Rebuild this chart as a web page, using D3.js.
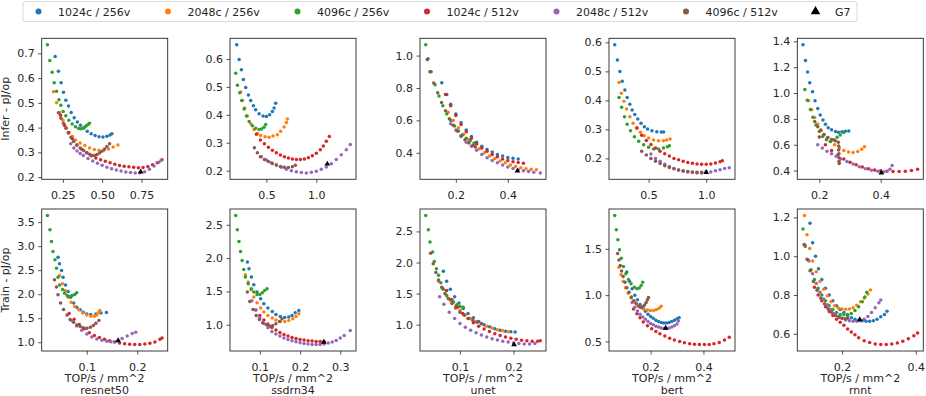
<!DOCTYPE html>
<html><head><meta charset="utf-8">
<script src="https://cdn.jsdelivr.net/npm/d3@7"></script>
<style>html,body{margin:0;padding:0;background:#fff;}svg{display:block;}</style>
</head><body>
<svg id="chart" width="926" height="396"></svg>
<script>
// ---------- data ----------
const seriesNames = ["1024c / 256v","2048c / 256v","4096c / 256v","1024c / 512v","2048c / 512v","4096c / 512v"];
const seriesColors = ["#1f77b4","#ff7f0e","#2ca02c","#d62728","#9467bd","#8c564b"];
const models = ["resnet50","ssdrn34","unet","bert","rnnt"];
const rowLabels = ["Infer - pJ/op","Train - pJ/op"];
const xLabel = "TOP/s / mm^2";

// each panel: [blue, orange, green, red, purple, brown] series of [TOP/s/mm^2, pJ/op]
const inferResnet50 = [
 [[0.201,0.687],[0.222,0.628],[0.239,0.581],[0.254,0.543],[0.269,0.511],[0.286,0.487],[0.303,0.461],[0.322,0.44],[0.342,0.423],[0.362,0.41],[0.383,0.398],[0.405,0.385],[0.43,0.375],[0.455,0.368],[0.48,0.363],[0.505,0.362],[0.53,0.365],[0.55,0.37],[0.562,0.375]],
 [[0.19,0.545],[0.21,0.5],[0.23,0.46],[0.25,0.43],[0.27,0.4],[0.29,0.38],[0.31,0.365],[0.33,0.35],[0.36,0.338],[0.39,0.328],[0.42,0.318],[0.45,0.312],[0.48,0.308],[0.51,0.308],[0.54,0.314],[0.57,0.322],[0.6,0.33]],
 [[0.152,0.735],[0.167,0.671],[0.182,0.624],[0.195,0.581],[0.21,0.547],[0.225,0.513],[0.237,0.49],[0.252,0.465],[0.269,0.448],[0.288,0.43],[0.309,0.415],[0.33,0.403],[0.35,0.396],[0.365,0.395],[0.378,0.397],[0.39,0.402],[0.4,0.407],[0.41,0.413],[0.419,0.418]],
 [[0.235,0.45],[0.26,0.41],[0.285,0.38],[0.31,0.355],[0.34,0.33],[0.37,0.313],[0.4,0.298],[0.43,0.286],[0.46,0.277],[0.49,0.27],[0.52,0.264],[0.55,0.258],[0.58,0.252],[0.61,0.247],[0.64,0.244],[0.67,0.242],[0.7,0.24],[0.73,0.238],[0.76,0.239],[0.79,0.243],[0.82,0.25],[0.85,0.258],[0.88,0.27]],
 [[0.3,0.335],[0.32,0.318],[0.34,0.305],[0.36,0.295],[0.38,0.287],[0.41,0.275],[0.44,0.265],[0.47,0.256],[0.5,0.248],[0.53,0.24],[0.56,0.234],[0.59,0.229],[0.62,0.225],[0.65,0.221],[0.68,0.219],[0.71,0.217],[0.74,0.218],[0.77,0.222],[0.8,0.232],[0.83,0.245],[0.86,0.26],[0.875,0.268]],
 [[0.222,0.46],[0.238,0.438],[0.254,0.418],[0.27,0.397],[0.286,0.378],[0.302,0.36],[0.318,0.344],[0.338,0.33],[0.36,0.318],[0.382,0.307],[0.403,0.298],[0.42,0.292],[0.435,0.287],[0.452,0.287],[0.467,0.291],[0.483,0.297],[0.498,0.304],[0.515,0.314],[0.53,0.324],[0.547,0.335]]
];
const inferSsdrn34 = [
 [[0.203,0.651],[0.227,0.598],[0.25,0.561],[0.27,0.526],[0.293,0.498],[0.32,0.471],[0.343,0.451],[0.37,0.432],[0.393,0.418],[0.427,0.404],[0.467,0.396],[0.5,0.394],[0.533,0.4],[0.56,0.412],[0.577,0.424],[0.593,0.441]],
 [[0.243,0.482],[0.26,0.451],[0.283,0.424],[0.31,0.396],[0.343,0.368],[0.377,0.347],[0.41,0.333],[0.443,0.326],[0.487,0.321],[0.527,0.32],[0.567,0.324],[0.61,0.329],[0.643,0.341],[0.677,0.356],[0.7,0.372],[0.71,0.385]],
 [[0.193,0.549],[0.21,0.506],[0.233,0.479],[0.253,0.451],[0.277,0.421],[0.3,0.396],[0.327,0.376],[0.36,0.361],[0.393,0.352],[0.427,0.347],[0.453,0.349],[0.477,0.355],[0.493,0.365]],
 [[0.4,0.33],[0.44,0.31],[0.48,0.296],[0.52,0.284],[0.56,0.273],[0.6,0.264],[0.64,0.256],[0.68,0.25],[0.72,0.245],[0.76,0.242],[0.8,0.24],[0.84,0.24],[0.88,0.242],[0.92,0.246],[0.96,0.253],[1.0,0.262],[1.04,0.275],[1.07,0.288],[1.1,0.305],[1.13,0.322]],
 [[0.45,0.25],[0.5,0.238],[0.55,0.228],[0.6,0.22],[0.65,0.212],[0.7,0.205],[0.75,0.2],[0.8,0.196],[0.85,0.193],[0.9,0.192],[0.95,0.194],[1.0,0.198],[1.05,0.205],[1.1,0.213],[1.15,0.225],[1.2,0.24],[1.25,0.257],[1.3,0.275],[1.34,0.294]],
 [[0.38,0.282],[0.41,0.264],[0.44,0.25],[0.48,0.24],[0.52,0.233],[0.56,0.226],[0.6,0.22],[0.64,0.215],[0.68,0.212],[0.72,0.211],[0.76,0.214],[0.79,0.219]]
];
const inferUnet = [
 [[0.146,0.833],[0.165,0.76],[0.18,0.7],[0.2,0.64],[0.22,0.585],[0.24,0.54],[0.26,0.5],[0.28,0.465],[0.3,0.44],[0.32,0.42],[0.34,0.405],[0.36,0.39],[0.38,0.38],[0.4,0.371],[0.42,0.366],[0.44,0.362]],
 [[0.17,0.65],[0.19,0.6],[0.21,0.555],[0.23,0.515],[0.25,0.48],[0.27,0.45],[0.29,0.425],[0.31,0.4],[0.33,0.38],[0.35,0.365],[0.37,0.35],[0.39,0.338],[0.41,0.325],[0.43,0.315],[0.45,0.308],[0.47,0.302],[0.49,0.298],[0.51,0.296]],
 [[0.084,1.067],[0.093,0.98],[0.105,0.9],[0.12,0.82],[0.135,0.75],[0.15,0.69],[0.165,0.64],[0.18,0.6],[0.195,0.565],[0.21,0.535],[0.225,0.51],[0.24,0.49],[0.255,0.475],[0.27,0.46]],
 [[0.16,0.76],[0.18,0.69],[0.2,0.63],[0.22,0.575],[0.24,0.53],[0.26,0.49],[0.28,0.455],[0.3,0.43],[0.32,0.41],[0.34,0.39],[0.36,0.375],[0.38,0.362],[0.4,0.352],[0.42,0.345],[0.44,0.34],[0.46,0.336]],
 [[0.18,0.58],[0.2,0.54],[0.22,0.5],[0.24,0.465],[0.26,0.44],[0.28,0.415],[0.3,0.39],[0.32,0.37],[0.34,0.352],[0.36,0.338],[0.38,0.325],[0.4,0.313],[0.42,0.303],[0.44,0.295],[0.46,0.289],[0.48,0.284],[0.5,0.28],[0.525,0.276]],
 [[0.09,0.975],[0.1,0.9],[0.115,0.83],[0.13,0.77],[0.145,0.71],[0.16,0.66],[0.175,0.61],[0.19,0.57],[0.205,0.535],[0.22,0.505],[0.235,0.48],[0.25,0.46],[0.265,0.445],[0.275,0.435]]
];
const inferBert = [
 [[0.206,0.592],[0.229,0.539],[0.251,0.5],[0.271,0.466],[0.294,0.436],[0.314,0.41],[0.337,0.387],[0.357,0.367],[0.38,0.351],[0.406,0.336],[0.434,0.321],[0.463,0.309],[0.491,0.301],[0.529,0.295],[0.571,0.292],[0.61,0.291],[0.63,0.291]],
 [[0.243,0.462],[0.263,0.425],[0.286,0.397],[0.309,0.37],[0.337,0.344],[0.366,0.321],[0.394,0.305],[0.429,0.29],[0.463,0.278],[0.5,0.27],[0.543,0.263],[0.586,0.261],[0.629,0.261],[0.657,0.263],[0.686,0.267]],
 [[0.243,0.41],[0.266,0.376],[0.291,0.344],[0.314,0.318],[0.343,0.295],[0.377,0.275],[0.414,0.259],[0.457,0.247],[0.5,0.238],[0.543,0.232],[0.586,0.232],[0.629,0.236],[0.663,0.24],[0.68,0.244]],
 [[0.4,0.305],[0.44,0.28],[0.48,0.262],[0.52,0.248],[0.56,0.236],[0.6,0.225],[0.64,0.216],[0.68,0.208],[0.72,0.2],[0.76,0.195],[0.8,0.19],[0.84,0.186],[0.88,0.183],[0.92,0.181],[0.96,0.18],[1.0,0.18],[1.04,0.181],[1.08,0.184],[1.12,0.188],[1.14,0.192]],
 [[0.52,0.215],[0.56,0.2],[0.6,0.19],[0.64,0.18],[0.68,0.172],[0.72,0.165],[0.76,0.16],[0.8,0.156],[0.84,0.153],[0.88,0.151],[0.92,0.15],[0.96,0.15],[1.0,0.151],[1.04,0.153],[1.08,0.157],[1.12,0.161],[1.16,0.165],[1.2,0.168]],
 [[0.44,0.225],[0.48,0.212],[0.52,0.2],[0.56,0.19],[0.6,0.182],[0.64,0.175],[0.68,0.169],[0.72,0.164],[0.76,0.16],[0.8,0.157],[0.84,0.155],[0.88,0.153],[0.92,0.152],[0.96,0.152],[1.0,0.153]]
];
const inferRnnt = [
 [[0.147,1.374],[0.155,1.252],[0.162,1.162],[0.169,1.08],[0.178,1.009],[0.186,0.94],[0.195,0.881],[0.203,0.83],[0.212,0.791],[0.22,0.758],[0.229,0.732],[0.24,0.715],[0.253,0.702],[0.263,0.697],[0.274,0.7],[0.285,0.705],[0.296,0.707]],
 [[0.165,0.94],[0.175,0.87],[0.185,0.81],[0.195,0.76],[0.205,0.715],[0.215,0.68],[0.225,0.65],[0.235,0.625],[0.25,0.6],[0.265,0.575],[0.28,0.555],[0.295,0.543],[0.31,0.54],[0.325,0.548],[0.338,0.565],[0.347,0.585]],
 [[0.153,1.027],[0.161,0.945],[0.171,0.873],[0.179,0.812],[0.189,0.753],[0.2,0.702],[0.211,0.663],[0.223,0.638],[0.237,0.625],[0.247,0.638],[0.258,0.658],[0.268,0.676],[0.279,0.694]],
 [[0.2,0.66],[0.22,0.6],[0.24,0.555],[0.26,0.52],[0.28,0.49],[0.3,0.465],[0.32,0.445],[0.34,0.428],[0.36,0.415],[0.38,0.405],[0.4,0.398],[0.42,0.394],[0.44,0.392],[0.46,0.392],[0.48,0.395],[0.5,0.4],[0.52,0.41]],
 [[0.195,0.6],[0.21,0.575],[0.225,0.55],[0.24,0.53],[0.255,0.51],[0.27,0.49],[0.29,0.47],[0.31,0.45],[0.33,0.43],[0.35,0.415],[0.37,0.403],[0.39,0.395],[0.41,0.39],[0.42,0.395],[0.43,0.41],[0.437,0.44]],
 [[0.185,0.78],[0.195,0.74],[0.205,0.71],[0.215,0.68],[0.228,0.655],[0.24,0.64],[0.252,0.63],[0.262,0.62],[0.263,0.59],[0.263,0.56],[0.264,0.53],[0.264,0.5],[0.264,0.47],[0.265,0.455]]
];
const trainResnet50 = [
 [[0.043,2.771],[0.046,2.632],[0.05,2.493],[0.053,2.354],[0.058,2.194],[0.063,2.056],[0.068,1.938],[0.074,1.819],[0.08,1.729],[0.087,1.674],[0.093,1.625],[0.1,1.59],[0.108,1.576],[0.118,1.59],[0.128,1.611],[0.139,1.62]],
 [[0.046,2.389],[0.052,2.215],[0.057,2.076],[0.063,1.938],[0.069,1.833],[0.076,1.743],[0.084,1.674],[0.092,1.611],[0.1,1.569],[0.108,1.542],[0.115,1.542],[0.12,1.569],[0.124,1.625],[0.126,1.66]],
 [[0.022,3.639],[0.027,3.34],[0.03,3.097],[0.033,2.889],[0.037,2.715],[0.04,2.542],[0.043,2.354],[0.046,2.194],[0.052,2.097],[0.056,2.021],[0.061,1.972],[0.066,1.951],[0.071,1.972],[0.076,1.993],[0.08,2.028]],
 [[0.065,1.6],[0.075,1.48],[0.085,1.37],[0.095,1.28],[0.105,1.2],[0.115,1.14],[0.125,1.1],[0.135,1.06],[0.145,1.03],[0.155,1.005],[0.165,0.985],[0.175,0.968],[0.185,0.957],[0.195,0.952],[0.205,0.955],[0.215,0.962],[0.225,0.978],[0.235,1.005],[0.245,1.06],[0.249,1.09]],
 [[0.07,1.45],[0.08,1.34],[0.09,1.25],[0.1,1.17],[0.11,1.11],[0.12,1.07],[0.13,1.04],[0.14,1.02],[0.148,1.008],[0.155,1.01],[0.163,1.03],[0.17,1.08],[0.18,1.13],[0.19,1.18],[0.197,1.208]],
 [[0.036,2.3],[0.04,2.15],[0.043,1.986],[0.048,1.819],[0.054,1.681],[0.061,1.569],[0.067,1.472],[0.074,1.417],[0.08,1.361],[0.087,1.326],[0.093,1.299],[0.1,1.292],[0.107,1.313],[0.113,1.347],[0.118,1.396],[0.124,1.451]]
];
const trainSsdrn34 = [
 [[0.069,1.94],[0.073,1.84],[0.079,1.715],[0.085,1.6],[0.093,1.49],[0.102,1.39],[0.11,1.315],[0.12,1.25],[0.131,1.2],[0.14,1.155],[0.151,1.125],[0.162,1.11],[0.172,1.115],[0.18,1.14],[0.188,1.18],[0.197,1.215]],
 [[0.064,1.75],[0.071,1.64],[0.078,1.525],[0.085,1.415],[0.093,1.33],[0.102,1.25],[0.11,1.19],[0.12,1.14],[0.131,1.1],[0.14,1.07],[0.151,1.05],[0.162,1.05],[0.172,1.065],[0.182,1.09],[0.19,1.125],[0.197,1.165]],
 [[0.04,2.64],[0.044,2.425],[0.048,2.25],[0.052,2.1],[0.056,1.965],[0.06,1.83],[0.064,1.715],[0.071,1.615],[0.079,1.54],[0.085,1.49],[0.093,1.455],[0.1,1.455],[0.106,1.48],[0.112,1.515],[0.118,1.54]],
 [[0.09,1.22],[0.1,1.14],[0.11,1.07],[0.12,1.01],[0.13,0.96],[0.14,0.92],[0.15,0.885],[0.16,0.855],[0.17,0.83],[0.18,0.81],[0.19,0.795],[0.2,0.78],[0.21,0.77],[0.22,0.76],[0.23,0.755],[0.24,0.75],[0.25,0.748],[0.26,0.75]],
 [[0.08,1.36],[0.09,1.22],[0.1,1.11],[0.11,1.02],[0.12,0.955],[0.13,0.9],[0.14,0.86],[0.15,0.83],[0.16,0.8],[0.17,0.78],[0.18,0.76],[0.19,0.745],[0.2,0.73],[0.21,0.72],[0.22,0.712],[0.23,0.705],[0.24,0.703],[0.25,0.705],[0.26,0.712],[0.27,0.725],[0.28,0.74],[0.29,0.765],[0.3,0.8],[0.31,0.84],[0.325,0.915]],
 [[0.069,1.49],[0.075,1.35],[0.083,1.23],[0.091,1.14],[0.099,1.08],[0.107,1.03],[0.116,1.0],[0.124,0.98],[0.132,0.99],[0.14,1.015],[0.149,1.05],[0.155,1.09]]
];
const trainUnet = [
 [[0.069,1.86],[0.075,1.7],[0.082,1.57],[0.09,1.45],[0.098,1.35],[0.106,1.26],[0.115,1.18],[0.125,1.11],[0.135,1.05],[0.145,1.0],[0.155,0.965],[0.165,0.935],[0.175,0.91],[0.185,0.895],[0.195,0.885],[0.203,0.882]],
 [[0.06,1.7],[0.067,1.58],[0.075,1.47],[0.083,1.38],[0.092,1.3],[0.1,1.23],[0.11,1.16],[0.12,1.1],[0.13,1.05],[0.14,1.01],[0.15,0.975],[0.16,0.945],[0.17,0.92],[0.18,0.9],[0.19,0.885]],
 [[0.036,2.757],[0.041,2.527],[0.044,2.328],[0.049,2.168],[0.052,2.018],[0.056,1.9],[0.06,1.793],[0.064,1.675],[0.069,1.568],[0.075,1.471],[0.081,1.407],[0.088,1.364],[0.094,1.321],[0.1,1.295],[0.106,1.279]],
 [[0.075,1.55],[0.085,1.4],[0.095,1.28],[0.105,1.18],[0.115,1.1],[0.125,1.03],[0.135,0.975],[0.145,0.93],[0.155,0.89],[0.165,0.855],[0.175,0.825],[0.185,0.8],[0.195,0.78],[0.205,0.765],[0.215,0.75],[0.225,0.74],[0.235,0.735],[0.245,0.735],[0.25,0.74]],
 [[0.062,1.45],[0.07,1.33],[0.08,1.2],[0.09,1.1],[0.1,1.02],[0.11,0.96],[0.12,0.91],[0.13,0.87],[0.14,0.835],[0.15,0.8],[0.16,0.775],[0.17,0.755],[0.18,0.735],[0.19,0.72],[0.2,0.705],[0.21,0.695],[0.22,0.69],[0.23,0.69],[0.24,0.695]],
 [[0.045,2.15],[0.05,1.98],[0.055,1.84],[0.06,1.72],[0.066,1.6],[0.072,1.5],[0.078,1.42],[0.085,1.34],[0.092,1.27],[0.1,1.2],[0.108,1.15],[0.116,1.1],[0.124,1.07],[0.132,1.04],[0.14,1.02]]
];
const trainBert = [
 [[0.11,1.25],[0.12,1.15],[0.13,1.07],[0.14,1.0],[0.15,0.95],[0.16,0.9],[0.17,0.86],[0.18,0.825],[0.19,0.795],[0.2,0.77],[0.21,0.75],[0.22,0.73],[0.23,0.715],[0.24,0.705],[0.25,0.7],[0.26,0.7],[0.27,0.705],[0.28,0.715],[0.29,0.73],[0.3,0.745],[0.308,0.755]],
 [[0.08,1.3],[0.088,1.22],[0.096,1.15],[0.105,1.08],[0.115,1.02],[0.126,0.97],[0.138,0.93],[0.15,0.895],[0.162,0.87],[0.175,0.85],[0.188,0.84],[0.2,0.835],[0.212,0.835],[0.222,0.845],[0.232,0.86],[0.24,0.88]],
 [[0.064,1.86],[0.07,1.705],[0.076,1.597],[0.082,1.489],[0.089,1.399],[0.097,1.309],[0.106,1.23],[0.116,1.169],[0.126,1.122],[0.138,1.086],[0.148,1.068],[0.157,1.076],[0.164,1.104],[0.17,1.14]],
 [[0.135,0.85],[0.148,0.8],[0.16,0.755],[0.172,0.71],[0.188,0.67],[0.204,0.637],[0.22,0.608],[0.235,0.583],[0.254,0.558],[0.272,0.536],[0.29,0.517],[0.31,0.5],[0.328,0.487],[0.348,0.475],[0.366,0.47],[0.385,0.468],[0.404,0.467],[0.422,0.468],[0.44,0.475],[0.46,0.49],[0.48,0.515],[0.498,0.545]],
 [[0.13,0.92],[0.14,0.87],[0.15,0.83],[0.16,0.795],[0.17,0.765],[0.18,0.74],[0.19,0.715],[0.2,0.695],[0.21,0.68],[0.22,0.665],[0.23,0.655],[0.24,0.645],[0.25,0.64],[0.26,0.64],[0.27,0.645],[0.28,0.655],[0.29,0.67],[0.3,0.69],[0.305,0.72]],
 [[0.075,1.45],[0.08,1.38],[0.085,1.32],[0.09,1.26],[0.096,1.2],[0.103,1.14],[0.11,1.08],[0.118,1.03],[0.127,0.98],[0.136,0.94],[0.145,0.91],[0.155,0.88],[0.163,0.87],[0.17,0.875],[0.177,0.895],[0.183,0.92],[0.188,0.95],[0.192,0.975]]
];
const trainRnnt = [
 [[0.113,1.17],[0.12,1.07],[0.128,1.0],[0.136,0.935],[0.145,0.88],[0.155,0.835],[0.165,0.8],[0.175,0.77],[0.185,0.745],[0.195,0.725],[0.205,0.71],[0.215,0.695],[0.225,0.683],[0.235,0.675],[0.245,0.67],[0.255,0.667],[0.265,0.665],[0.275,0.665],[0.285,0.667],[0.295,0.675],[0.305,0.688],[0.315,0.7],[0.322,0.717]],
 [[0.098,1.21],[0.105,1.11],[0.112,1.04],[0.12,0.975],[0.13,0.92],[0.14,0.87],[0.15,0.83],[0.16,0.795],[0.17,0.765],[0.18,0.745],[0.19,0.733],[0.2,0.728],[0.21,0.727],[0.22,0.728],[0.23,0.735],[0.24,0.748],[0.25,0.765],[0.26,0.785],[0.27,0.805],[0.277,0.826]],
 [[0.094,1.14],[0.1,1.05],[0.108,0.98],[0.116,0.93],[0.125,0.88],[0.135,0.835],[0.145,0.8],[0.155,0.77],[0.165,0.745],[0.175,0.725],[0.185,0.71],[0.195,0.7],[0.205,0.7],[0.215,0.7],[0.225,0.705],[0.235,0.72],[0.245,0.74],[0.255,0.765],[0.262,0.79],[0.267,0.815]],
 [[0.125,0.84],[0.135,0.8],[0.145,0.77],[0.155,0.74],[0.165,0.715],[0.175,0.695],[0.185,0.675],[0.195,0.66],[0.205,0.645],[0.215,0.625],[0.225,0.61],[0.235,0.595],[0.245,0.58],[0.26,0.565],[0.275,0.555],[0.29,0.548],[0.305,0.545],[0.32,0.545],[0.335,0.548],[0.35,0.553],[0.365,0.562],[0.38,0.575],[0.395,0.59],[0.405,0.605]],
 [[0.1,1.055],[0.11,0.975],[0.12,0.91],[0.13,0.86],[0.14,0.815],[0.15,0.78],[0.16,0.75],[0.17,0.725],[0.18,0.705],[0.19,0.69],[0.2,0.68],[0.21,0.672],[0.22,0.668],[0.23,0.665],[0.24,0.665],[0.25,0.668],[0.26,0.675],[0.27,0.69],[0.28,0.71],[0.29,0.735],[0.3,0.76],[0.305,0.775]],
 [[0.097,1.06],[0.105,0.985],[0.113,0.925],[0.122,0.87],[0.132,0.825],[0.142,0.785],[0.152,0.755],[0.162,0.73],[0.172,0.71],[0.182,0.695],[0.192,0.685],[0.2,0.68],[0.208,0.678],[0.215,0.68]]
];
// G7 reference point per panel (infer row then train row)
const g7Points = [[0.745,0.221],[1.11,0.224],[0.437,0.288],[1.0,0.152],[0.402,0.382],
                  [0.162,1.035],[0.259,0.74],[0.201,0.68],[0.257,0.644],[0.248,0.674]];
const xTickLabels = [["0.25","0.50","0.75"],["0.5","1.0"],["0.2","0.4"],["0.5","1.0"],["0.2","0.4"],
                     ["0.1","0.2"],["0.1","0.2","0.3"],["0.1","0.2"],["0.2","0.4"],["0.2","0.4"]];
const yTickLabels = [["0.2","0.3","0.4","0.5","0.6","0.7"],["0.2","0.3","0.4","0.5","0.6"],["0.4","0.6","0.8","1.0"],["0.2","0.3","0.4","0.5","0.6"],["0.4","0.6","0.8","1.0","1.2","1.4"],
                     ["1.0","1.5","2.0","2.5","3.0","3.5"],["1.0","1.5","2.0","2.5"],["1.0","1.5","2.0","2.5"],["0.5","1.0","1.5"],["0.6","0.8","1.0","1.2"]];
const panelData = [inferResnet50, inferSsdrn34, inferUnet, inferBert, inferRnnt,
                   trainResnet50, trainSsdrn34, trainUnet, trainBert, trainRnnt];

// ---------- layout ----------
const FONT = "'DejaVu Sans', sans-serif";
const TXT = "#262626";
const colLeft = [41.7, 230, 420, 609, 797.3];
const panelW = 126;
const rowTop = [38.3, 209];
const rowH = [141, 142];

const svg = d3.select("#chart");
svg.append("rect").attr("width",926).attr("height",396).attr("fill","#fff");

function padded(ext){ const r = ext[1]-ext[0]; return [ext[0]-0.05*r, ext[1]+0.05*r]; }

panelData.forEach((series, p) => {
  const row = Math.floor(p/5), col = p%5;
  const x0 = colLeft[col], y0 = rowTop[row], w = panelW, h = rowH[row];
  const all = series.flat().concat([g7Points[p]]);
  const xs = d3.scaleLinear().domain(padded(d3.extent(all, d=>d[0]))).range([x0, x0+w]);
  const ys = d3.scaleLinear().domain(padded(d3.extent(all, d=>d[1]))).range([y0+h, y0]);
  const g = svg.append("g");

  // axes
  const xAxis = d3.axisBottom(xs).tickValues(xTickLabels[p].map(Number))
      .tickFormat((d,i)=>xTickLabels[p][i]).tickSize(3.5).tickPadding(8.5).tickSizeOuter(0);
  const yAxis = d3.axisLeft(ys).tickValues(yTickLabels[p].map(Number))
      .tickFormat((d,i)=>yTickLabels[p][i]).tickSize(3.5).tickPadding(3.5).tickSizeOuter(0);
  const gx = g.append("g").attr("transform",`translate(0,${y0+h})`).call(xAxis);
  const gy = g.append("g").attr("transform",`translate(${x0},0)`).call(yAxis);
  [gx,gy].forEach(a=>{
    a.select(".domain").remove();
    a.selectAll(".tick line").attr("stroke",TXT).attr("stroke-width",0.8);
    a.selectAll(".tick text").attr("fill",TXT).style("font-family",FONT).style("font-size","11px");
  });

  // points
  series.forEach((pts, s) => {
    g.append("g").selectAll("circle").data(pts).join("circle")
      .attr("cx", d=>xs(d[0])).attr("cy", d=>ys(d[1])).attr("r", 1.75)
      .attr("fill", seriesColors[s]);
  });
  // G7
  g.append("path").attr("d", d3.symbol(d3.symbolTriangle, 14)())
    .attr("transform", `translate(${xs(g7Points[p][0])},${ys(g7Points[p][1])})`)
    .attr("fill","#000");

  // frame
  g.append("rect").attr("x",x0).attr("y",y0).attr("width",w).attr("height",h)
    .attr("fill","none").attr("stroke",TXT).attr("stroke-width",0.9);

  if (row === 1) {
    g.append("text").attr("x", x0+w/2).attr("y", 382).attr("text-anchor","middle")
      .attr("fill",TXT).style("font-family",FONT).style("font-size","11px").text(xLabel);
    g.append("text").attr("x", x0+w/2).attr("y", 394).attr("text-anchor","middle")
      .attr("fill",TXT).style("font-family",FONT).style("font-size","11px").text(models[col]);
  }
  if (col === 0) {
    g.append("text").attr("transform",`translate(9,${y0+h/2}) rotate(-90)`)
      .attr("text-anchor","middle").attr("fill",TXT)
      .style("font-family",FONT).style("font-size","11px").text(rowLabels[row]);
  }
});

// ---------- legend ----------
const lg = svg.append("g");
lg.append("rect").attr("x",23).attr("y",1.5).attr("width",834).attr("height",20).attr("rx",2.5)
  .attr("fill","#fff").attr("stroke","#d0d0d0").attr("stroke-width",0.8);
const legendItems = seriesNames.map((n,i)=>({name:n,color:seriesColors[i],tri:false}))
  .concat([{name:"G7",color:"#000",tri:true}]);
const lx = d3.scaleLinear().domain([0,6]).range([38.5, 815.5]);
legendItems.forEach((it,i)=>{
  const cx = lx(i);
  if (it.tri) {
    lg.append("path").attr("d", d3.symbol(d3.symbolTriangle, 40)()).attr("transform",`translate(${cx},11.5)`).attr("fill",it.color);
  } else {
    lg.append("circle").attr("cx",cx).attr("cy",11.5).attr("r",3).attr("fill",it.color);
  }
  lg.append("text").attr("x",cx+19.5).attr("y",15.5).attr("fill",TXT)
    .style("font-family",FONT).style("font-size","11px").text(it.name);
});
</script>
</body></html>
